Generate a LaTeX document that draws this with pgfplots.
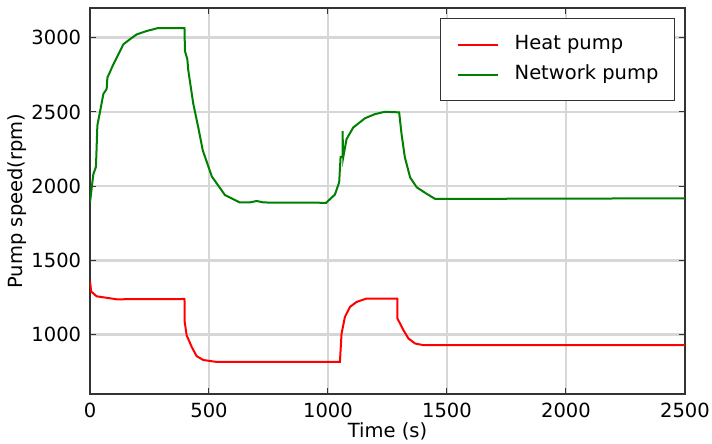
\documentclass[border=0pt]{standalone}
\usepackage{fontspec}
\setmainfont{DejaVu Sans}
\usepackage{pgfplots}
\pgfplotsset{compat=1.18}

\definecolor{heatred}{RGB}{255,0,0}
\definecolor{netgreen}{RGB}{0,128,0}
\definecolor{gridgray}{RGB}{215,215,215}

\begin{document}
\fontsize{9.75pt}{11.5pt}\selectfont
\begin{tikzpicture}
\begin{axis}[
  scale only axis,
  width=297.5pt, height=193pt,
  xmin=0, xmax=2500, ymin=600, ymax=3200,
  xtick={0,500,1000,1500,2000,2500},
  ytick={1000,1500,2000,2500,3000},
  /pgf/number format/assume math mode=true,
  /pgf/number format/1000 sep={},
  grid=major,
  major grid style={gridgray, line width=1.2pt},
  axis line style={black!80, line width=0.6pt},
  tick style={black!80, line width=0.5pt},
  tick align=inside,
  major tick length=3pt,
  xticklabel style={yshift=-1pt},
  yticklabel style={xshift=-1pt},
  xlabel={Time (s)}, ylabel={Pump speed(rpm)},
  xlabel style={yshift=4pt},
  ylabel style={yshift=-4pt},
  legend cell align=left,
  legend style={at={(1,1)}, anchor=north east, xshift=-5pt, yshift=-5pt,
    draw=black!80, line width=0.6pt, inner xsep=8pt, inner ysep=8pt,
    row sep=5pt, column sep=8pt,
    nodes={inner sep=0pt, text height=7.5pt, text depth=2.5pt}},
  legend image code/.code={\draw[#1] (0pt,0pt) -- (20pt,0pt);},
]
\addplot[heatred, line width=1pt] coordinates {
(0,1360) (5,1290) (28,1258) (112,1238) (397,1240) (398,1085) (406,996)
(427,918) (448,855) (476,829) (532,816) (1050,816) (1057,1007) (1071,1119)
(1092,1186) (1120,1220) (1162,1243) (1291,1243) (1292,1108) (1317,1030)
(1338,974) (1366,940) (1401,929) (2500,929)};
\addlegendentry{Heat pump}
\addplot[netgreen, line width=1pt] coordinates {
(0,1890) (14,2080) (25,2130) (31,2410) (42,2500) (56,2620) (70,2655)
(73,2730) (98,2820) (140,2955) (168,2990) (196,3022) (238,3045) (286,3065)
(397,3065) (399,2910) (409,2855) (413,2780) (434,2555) (455,2395) (474,2240)
(512,2065) (567,1940) (630,1890) (670,1890) (700,1900) (730,1890) (992,1888)
(1029,1943) (1047,2026) (1053,2198) (1061,2198) (1061,2370) (1064,2194)
(1078,2317) (1106,2395) (1156,2458) (1197,2485) (1239,2501) (1299,2497)
(1309,2351) (1323,2194) (1345,2059) (1373,1992) (1415,1948) (1450,1914)
(2500,1918)};
\addlegendentry{Network pump}
\end{axis}
\pgfresetboundingbox
\path[use as bounding box] (current axis.south west) ++(-45pt,-25pt)
  rectangle ([xshift=13.5pt,yshift=4pt]current axis.north east);
\end{tikzpicture}
\end{document}
